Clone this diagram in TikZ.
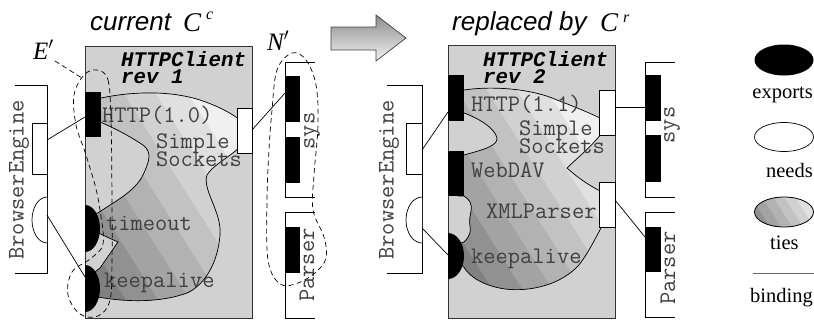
\documentclass[tikz,border=0pt]{standalone}
\usepackage{fontspec}
\newfontfamily\monof{Liberation Mono}
\newfontfamily\sansf{Liberation Sans}
\newfontfamily\seriff{Liberation Serif}
\newcommand\blobonepath{(96,100) -- (101,98) .. controls (140,90) and (175,92) .. (200,100) .. controls (215,105) and (230,112) .. (240,120) -- (246,120) -- (246,147) -- (240,147) .. controls (228,158) and (212,166) .. (207,175) .. controls (202,190) and (222,212) .. (220,235) .. controls (218,262) and (205,285) .. (187,293) .. controls (160,303) and (125,302) .. (98,297) -- (92,297) -- (92,274) -- (100,268) -- (118,242) -- (96,232) -- (94,213) -- (98,213) .. controls (112,203) and (135,192) .. (143,175) .. controls (150,160) and (152,152) .. (143,145) .. controls (128,135) and (112,127) .. (100,122) -- (96,122) -- cycle}
\newcommand\blobtwopath{(458,90) -- (464,90) .. controls (490,86) and (530,88) .. (557,100) .. controls (575,107) and (590,113) .. (602,119) -- (607,119) -- (607,133) -- (602,133) .. controls (590,148) and (575,160) .. (567,168) .. controls (578,178) and (590,186) .. (602,192) -- (607,192) -- (607,226) -- (602,226) .. controls (592,245) and (585,258) .. (578,266) .. controls (560,285) and (530,292) .. (505,289) .. controls (485,286) and (470,278) .. (463,266) -- (458,262) -- (458,244) -- (464,242) .. controls (470,236) and (471,232) .. (470,226) .. controls (468,216) and (474,208) .. (470,202) .. controls (468,199) and (466,197) .. (464,196) -- (458,196) -- (458,155) -- (464,155) .. controls (482,150) and (498,146) .. (497,138) .. controls (495,128) and (478,118) .. (464,113) -- (458,113) -- cycle}
\newcommand\tiebands[2]{% #1 = start s, #2 = band width
  \fill[black!50] (0,0) rectangle (814,330);
  \foreach \c [count=\i] in {43,36,30,24,18,12,6} {
    \fill[black!\c] ({#1+\i*#2},0) -- ({#1+\i*#2+1000},0) -- ({#1+\i*#2+1208},330) -- ({#1+\i*#2+208},330) -- cycle;
  }}
\tikzset{
  box/.style={fill=black!18, draw=black!80, line width=0.9pt},
  exportr/.style={fill=black},
  needr/.style={fill=white, draw=black, line width=0.7pt},
  bracket/.style={draw=black, line width=0.8pt},
  bind/.style={draw=black, line width=0.7pt},
  blobline/.style={draw=black, line width=0.7pt},
  mono/.style={font=\ttfamily\fontsize{23.8}{25}\selectfont, text=black!75, inner sep=0pt},
  monob/.style={font=\monof\bfseries\itshape\fontsize{20.8}{22}\selectfont, text=black, inner sep=0pt},
  region/.style={draw=black, line width=0.7pt, dash pattern=on 5pt off 3.5pt},
  legendtxt/.style={font=\seriff\fontsize{20.5}{22}\selectfont, inner sep=0pt, anchor=base east},
  titletxt/.style={font=\sansf\itshape\fontsize{26}{28}\selectfont, inner sep=0pt, anchor=base west},
  bigit/.style={font=\seriff\itshape\fontsize{27}{28}\selectfont, inner sep=0pt, anchor=base west},
  supit/.style={font=\seriff\itshape\fontsize{16}{18}\selectfont, inner sep=0pt, anchor=base west},
  bigarrow/.style={top color=black!45, bottom color=black!5, draw=black!75, line width=0.7pt},
}
\begin{document}
\begin{tikzpicture}[x=1pt, y=-1pt]
\useasboundingbox (0,0) rectangle (814,322);

% ---------------- titles and arrow ----------------
\node[titletxt] (t1) at (90,30) {current};
\node[bigit] (t1c) at (183,31) {C};
\node[supit] (t1s) at (206,19) {c};
\node[titletxt] (t2) at (452,30) {replaced by};
\node[bigit] (t2c) at (600,31) {C};
\node[supit] (t2s) at (623,22) {r};
\path[bigarrow] (331,27) -- (376,27) -- (376,15) -- (406,38) -- (376,61) -- (376,50) -- (331,50) -- cycle;

% ---------------- left: HTTPClient rev 1 ----------------
\draw[box] (85,46) rectangle (252,318);
\begin{scope}
  \clip \blobonepath;
  \tiebands{-95}{32}
\end{scope}
\draw[blobline] \blobonepath;

% BrowserEngine (left)
\draw[bracket] (15,85) -- (47,85) -- (47,273) -- (15,273);
\draw[needr] (32,123) rectangle (47,174);
\begin{scope}
  \clip (0,150) rectangle (47,260);
  \draw[needr] (47,220) ellipse[x radius=15, y radius=23];
\end{scope}
\node[mono, rotate=90] (be1) at (19,180) {BrowserEngine};

% exports / needs of rev 1
\fill[exportr] (85,92) rectangle (101,137);
\begin{scope}
  \clip (85,150) rectangle (200,320);
  \fill[exportr] (85,228.5) ellipse[x radius=15, y radius=23.5];
  \fill[exportr] (85,288.5) ellipse[x radius=15, y radius=23.5];
\end{scope}
\draw[needr] (237,108) rectangle (252,153);

% sys and Parser (left)
\draw[bracket] (315,62) -- (285,62) -- (285,197) -- (315,197);
\draw[bracket] (315,212) -- (285,212) -- (285,318) -- (315,318);
\fill[exportr] (285,76) rectangle (300,122);
\fill[exportr] (285,137) rectangle (300,183);
\fill[exportr] (285,227) rectangle (300,273);
\node[mono, rotate=90] (sys1) at (312,131) {sys};
\node[mono, rotate=90] (par1) at (307,265) {Parser};

% bindings (left)
\coordinate (be1n) at (47,140);
\coordinate (be1e) at (47,215);
\coordinate (http1) at (85,117);
\coordinate (keep1) at (85,277);
\coordinate (sock1) at (252,130);
\coordinate (sys1e) at (285,93);
\draw[bind] (be1n) -- (http1);
\draw[bind] (be1e) -- (keep1);
\draw[bind] (sock1) -- (sys1e);

% texts rev 1
\node[monob, anchor=base west] (hc1) at (121,66) {HTTPClient};
\node[monob, anchor=base west] (rv1) at (121,83) {rev 1};
\node[mono, anchor=base west] (h10) at (102,122) {HTTP(1.0)};
\node[mono, anchor=base west] (sim1) at (156,148) {Simple};
\node[mono, anchor=base west] (soc1) at (156,166) {Sockets};
\node[mono, anchor=base west] (tmo) at (106,230) {timeout};
\node[mono, anchor=base west] (ka1) at (104,287) {keepalive};

% E' and N' regions
\node[bigit, font=\seriff\itshape\fontsize{25}{26}\selectfont] (E) at (33,59) {E$'$};
\node[bigit, font=\seriff\itshape\fontsize{25}{26}\selectfont] (N) at (267,50) {N$'$};
\coordinate (Eend) at (82,78);
\draw[region] (55,61) -- (Eend);
\draw[region] plot[smooth cycle, tension=0.6] coordinates {(97,70) (108,80) (111,120) (112,200) (112,260) (110,300) (98,316) (80,314) (68,295) (72,272) (90,259) (103,244) (100,210) (95,185) (85,152) (76,125) (74,95) (84,75)};
\draw[region] plot[smooth cycle, tension=0.6] coordinates {(292,53) (306,60) (316,85) (318,125) (314,175) (313,210) (324,237) (326,258) (316,272) (298,283) (280,284) (268,260) (267,200) (269,150) (272,110) (277,70)};

% ---------------- right: HTTPClient rev 2 ----------------
\draw[box] (448,45) rectangle (615,318);
\begin{scope}
  \clip \blobtwopath;
  \tiebands{280}{30}
\end{scope}
\draw[blobline] \blobtwopath;

% BrowserEngine (right)
\draw[bracket] (387,85) -- (422,85) -- (422,273) -- (387,273);
\draw[needr] (406,123) rectangle (422,174);
\begin{scope}
  \clip (370,150) rectangle (422,260);
  \draw[needr] (422,220) ellipse[x radius=16, y radius=23];
\end{scope}
\node[mono, rotate=90] (be2) at (389,180) {BrowserEngine};

% exports / needs of rev 2
\fill[exportr] (448,75) rectangle (464,121);
\fill[exportr] (448,151) rectangle (464,196);
\begin{scope}
  \clip (448,200) rectangle (520,320);
  \fill[exportr] (448,256) ellipse[x radius=16, y radius=23];
\end{scope}
\draw[needr] (599,90) rectangle (615,135);
\draw[needr] (599,182) rectangle (615,227);

% sys and Parser (right)
\draw[bracket] (675,62) -- (645,62) -- (645,197) -- (675,197);
\draw[bracket] (675,212) -- (645,212) -- (645,317) -- (675,317);
\fill[exportr] (645,75) rectangle (661,121);
\fill[exportr] (645,135) rectangle (661,182);
\fill[exportr] (645,227) rectangle (661,272);
\node[mono, rotate=90] (sys2) at (672,125) {sys};
\node[mono, rotate=90] (par2) at (668,268) {Parser};

% bindings (right)
\coordinate (be2n) at (422,150);
\coordinate (be2e) at (422,228);
\coordinate (http2) at (448,112);
\coordinate (keep2) at (448,255);
\coordinate (sock2) at (615,107);
\coordinate (sys2e) at (645,107);
\coordinate (xml2) at (615,200);
\coordinate (par2e) at (645,237);
\draw[bind] (be2n) -- (http2);
\draw[bind] (be2e) -- (keep2);
\draw[bind] (sock2) -- (sys2e);
\draw[bind] (xml2) -- (par2e);

% texts rev 2
\node[monob, anchor=base west] (hc2) at (483,66) {HTTPClient};
\node[monob, anchor=base west] (rv2) at (483,83) {rev 2};
\node[mono, anchor=base west] (h11) at (471,111) {HTTP(1.1)};
\node[mono, anchor=base west] (sim2) at (519,135) {Simple};
\node[mono, anchor=base west] (soc2) at (519,153) {Sockets};
\node[mono, anchor=base west] (wdv) at (471,177) {WebDAV};
\node[mono, anchor=base west] (xmlp) at (486,218) {XMLParser};
\node[mono, anchor=base west] (ka2) at (471,263) {keepalive};

% ---------------- legend ----------------
\fill[black] (784,60) ellipse[x radius=29.5, y radius=15.5];
\node[legendtxt] (lex) at (813,98) {exports};
\draw[needr] (784,137) ellipse[x radius=29.5, y radius=14.5];
\node[legendtxt] (lne) at (813,177) {needs};
\begin{scope}
  \clip (784,212) ellipse[x radius=29.5, y radius=15];
  \tiebands{605}{11}
\end{scope}
\draw[black, line width=0.8pt] (784,212) ellipse[x radius=29.5, y radius=15];
\node[legendtxt, anchor=base west] (lti) at (770,249) {ties};
\coordinate (lb1) at (753,273);
\coordinate (lb2) at (814,273);
\draw[draw=black!60, line width=0.9pt] (lb1) -- (lb2);
\node[legendtxt] (lbi) at (813,302) {binding};
\end{tikzpicture}
\end{document}
